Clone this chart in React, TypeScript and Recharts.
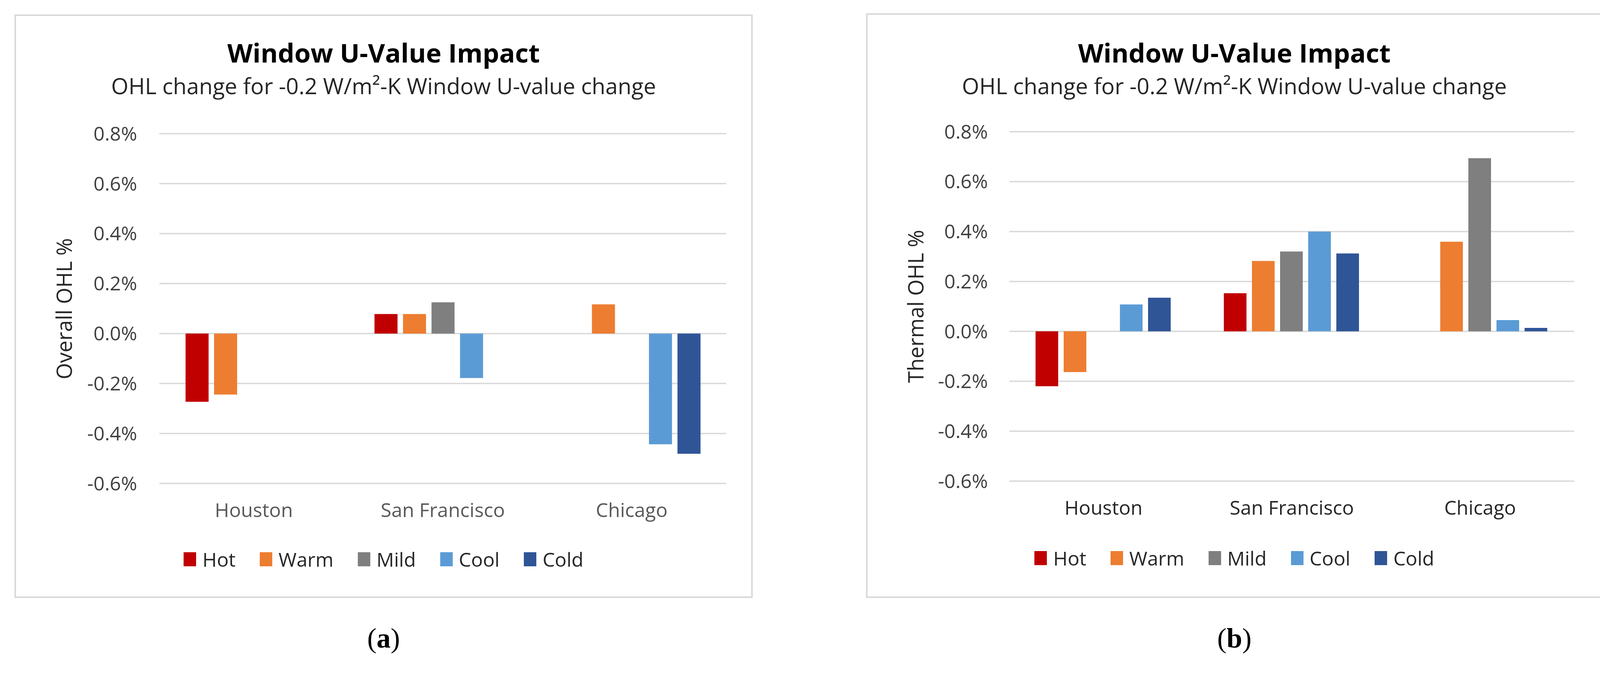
import React from 'react';
import { BarChart, Bar, XAxis, YAxis, CartesianGrid, Legend } from 'recharts';

// ---------- data ----------
const CITIES = ['Houston', 'San Francisco', 'Chicago'];
const SERIES = ['Hot', 'Warm', 'Mild', 'Cool', 'Cold'];
const COLORS = ['#C00000', '#ED7D31', '#7F7F7F', '#5B9BD5', '#2F5597'];
const Y_TICKS = [-0.6, -0.4, -0.2, 0, 0.2, 0.4, 0.6, 0.8];

const TITLE = 'Window U-Value Impact';
const SUBTITLE = 'OHL change for -0.2 W/m\u00B2-K Window U-value change';

// (a) Overall OHL %
const OVERALL_HOT = [-0.273, 0.078, 0];
const OVERALL_WARM = [-0.244, 0.078, 0.117];
const OVERALL_MILD = [0, 0.125, 0];
const OVERALL_COOL = [0, -0.178, -0.443];
const OVERALL_COLD = [0, 0, -0.481];

// (b) Thermal OHL %
const THERMAL_HOT = [-0.22, 0.153, 0];
const THERMAL_WARM = [-0.163, 0.282, 0.359];
const THERMAL_MILD = [0, 0.32, 0.694];
const THERMAL_COOL = [0.108, 0.4, 0.045];
const THERMAL_COLD = [0.135, 0.312, 0.014];

const buildRows = (h: number[], w: number[], m: number[], c: number[], k: number[]) =>
  CITIES.map((city, i) => ({ city, Hot: h[i], Warm: w[i], Mild: m[i], Cool: c[i], Cold: k[i] }));

const OVERALL_ROWS = buildRows(OVERALL_HOT, OVERALL_WARM, OVERALL_MILD, OVERALL_COOL, OVERALL_COLD);
const THERMAL_ROWS = buildRows(THERMAL_HOT, THERMAL_WARM, THERMAL_MILD, THERMAL_COOL, THERMAL_COLD);

// ---------- styles ----------
const FONT = '"Open Sans", sans-serif';
const X_AXIS_H = 100;
const Y_AXIS_W = 300;

type Box = { left: number; top: number; width: number; height: number };
type Plot = { left: number; top: number; right: number; bottom: number };

const renderLegend = (props: any) => {
  const payload = [...(props.payload || [])].sort(
    (a: any, b: any) => SERIES.indexOf(String(a.value)) - SERIES.indexOf(String(b.value))
  );
  return (
    <div
      style={{
        display: 'flex',
        justifyContent: 'center',
        alignItems: 'center',
        gap: 62,
        height: 60,
        fontFamily: FONT,
        fontSize: 50,
        color: '#262626',
        lineHeight: '60px',
      }}
    >
      {payload.map((e: any) => (
        <div key={e.value} style={{ display: 'flex', alignItems: 'center' }}>
          <span style={{ display: 'inline-block', width: 32, height: 36, background: e.color, marginRight: 16 }} />
          <span>{e.value}</span>
        </div>
      ))}
    </div>
  );
};

function Panel(props: {
  box: Box;
  plot: Plot;
  rows: any[];
  yLabel: string;
  catColor: string;
  caption: string;
  tickGap: number;
}) {
  const { box, plot, rows, yLabel, catColor, caption, tickGap } = props;
  const cx = box.left + box.width / 2;
  const plotMidY = box.top + plot.top + (box.height - plot.top - plot.bottom) / 2;
  return (
    <>
      <div
        style={{
          position: 'absolute',
          left: box.left,
          top: box.top,
          width: box.width,
          height: box.height,
          border: '4px solid #D9D9D9',
          boxSizing: 'border-box',
          background: '#FFFFFF',
        }}
      />
      <div
        style={{
          position: 'absolute',
          left: box.left,
          top: 101,
          width: box.width,
          textAlign: 'center',
          fontFamily: FONT,
          fontWeight: 700,
          fontSize: 67,
          lineHeight: 1,
          color: '#000000',
          whiteSpace: 'nowrap',
        }}
      >
        {TITLE}
      </div>
      <div
        style={{
          position: 'absolute',
          left: box.left,
          top: 191,
          width: box.width,
          textAlign: 'center',
          fontFamily: FONT,
          fontSize: 57,
          lineHeight: 1,
          color: '#262626',
          whiteSpace: 'nowrap',
        }}
      >
        {SUBTITLE}
      </div>
      <div style={{ position: 'absolute', left: box.left, top: box.top }}>
        <BarChart
          width={box.width}
          height={box.height}
          data={rows}
          margin={{
            top: plot.top,
            right: plot.right,
            bottom: plot.bottom - X_AXIS_H,
            left: plot.left - Y_AXIS_W,
          }}
          barCategoryGap={67}
          barGap={14}
        >
          <CartesianGrid vertical={false} stroke="#D9D9D9" strokeWidth={3.5} />
          <XAxis
            dataKey="city"
            axisLine={false}
            tickLine={false}
            tickSize={0}
            tickMargin={50}
            height={X_AXIS_H}
            interval={0}
            tick={{ fill: catColor, fontSize: 50, fontFamily: FONT }}
          />
          <YAxis
            type="number"
            domain={[-0.6, 0.8]}
            ticks={Y_TICKS}
            interval={0}
            width={Y_AXIS_W}
            axisLine={false}
            tickLine={false}
            tickSize={0}
            tickMargin={tickGap}
            tickFormatter={(v: number) => `${v.toFixed(1)}%`}
            tick={{ fill: '#404040', fontSize: 50, fontFamily: FONT }}
          />
          <Legend
            layout="horizontal"
            verticalAlign="middle"
            align="center"
            itemSorter={null as any}
            wrapperStyle={{ top: 1364, left: 0, width: box.width, height: 60 }}
            content={renderLegend}
          />
          {SERIES.map((s, i) => (
            <Bar key={s} dataKey={s} name={s} fill={COLORS[i]} isAnimationActive={false} />
          ))}
        </BarChart>
      </div>
      <div
        style={{
          position: 'absolute',
          left: box.left + 126 - 300,
          top: plotMidY - 40,
          width: 600,
          height: 80,
          lineHeight: '80px',
          textAlign: 'center',
          transform: 'rotate(-90deg)',
          transformOrigin: '50% 50%',
          fontFamily: FONT,
          fontSize: 54,
          color: '#262626',
          whiteSpace: 'nowrap',
        }}
      >
        {yLabel}
      </div>
      <div
        style={{
          position: 'absolute',
          left: cx - 200,
          top: 1597,
          width: 400,
          textAlign: 'center',
          fontFamily: '"Liberation Serif", "Times New Roman", serif',
          fontSize: 72,
          lineHeight: 1,
          color: '#000000',
        }}
      >
        (<b>{caption}</b>)
      </div>
    </>
  );
}

export default function App() {
  return (
    <div
      style={{
        position: 'absolute',
        left: 0,
        top: 0,
        width: 4142,
        height: 1722,
        background: '#FFFFFF',
        overflow: 'hidden',
      }}
    >
      <Panel
        box={{ left: 37, top: 37, width: 1890, height: 1493 }}
        plot={{ left: 371, top: 305, right: 68, bottom: 293 }}
        rows={OVERALL_ROWS}
        yLabel="Overall OHL %"
        catColor="#595959"
        caption="a"
        tickGap={57}
      />
      <Panel
        box={{ left: 2217, top: 34, width: 1886, height: 1496 }}
        plot={{ left: 367, top: 303, right: 73, bottom: 299 }}
        rows={THERMAL_ROWS}
        yLabel="Thermal OHL %"
        catColor="#262626"
        caption="b"
        tickGap={55}
      />
    </div>
  );
}
